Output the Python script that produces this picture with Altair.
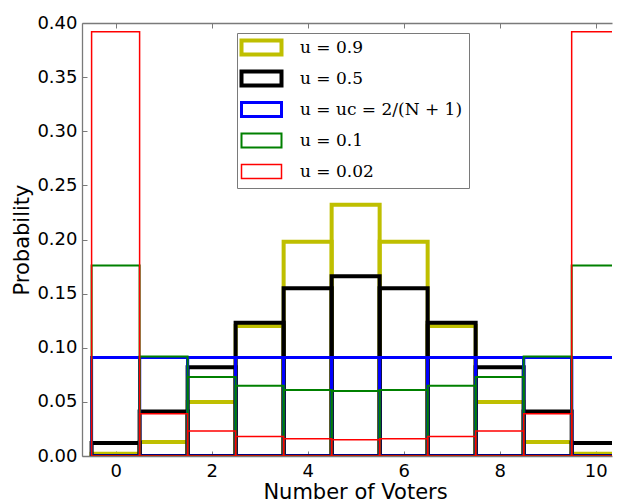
import altair as alt
import pandas as pd

# ---- data ----
voters = list(range(11))
series_labels = ["u = 0.9", "u = 0.5", "u = uc = 2/(N + 1)", "u = 0.1", "u = 0.02"]
p_u09 = [0.002, 0.013, 0.050, 0.120, 0.198, 0.232, 0.198, 0.120, 0.050, 0.013, 0.002]
p_u05 = [0.012, 0.041, 0.082, 0.123, 0.155, 0.166, 0.155, 0.123, 0.082, 0.041, 0.012]
p_uc = [0.091, 0.091, 0.091, 0.091, 0.091, 0.091, 0.091, 0.091, 0.091, 0.091, 0.091]
p_u01 = [0.176, 0.092, 0.073, 0.065, 0.061, 0.060, 0.061, 0.065, 0.073, 0.092, 0.176]
p_u002 = [0.392, 0.039, 0.023, 0.018, 0.016, 0.015, 0.016, 0.018, 0.023, 0.039, 0.392]
x_ticks = [0, 2, 4, 6, 8, 10]
y_ticks = [0.0, 0.05, 0.10, 0.15, 0.20, 0.25, 0.30, 0.35, 0.40]

colors = ["#bfbf00", "#000000", "#0000ff", "#008000", "#ff0000"]
line_widths = [4, 4, 3, 2, 1.5]

rows = []
for k, (lab, vals) in enumerate(zip(series_labels, [p_u09, p_u05, p_uc, p_u01, p_u002])):
    for n, p in zip(voters, vals):
        rows.append({"series": lab, "order": k, "n": n, "p": p})
df = pd.DataFrame(rows)

FONT = "DejaVu Sans"
GRAY = "#7a7a7a"
xscale = alt.Scale(domain=[-0.7, 10.34], nice=False, zero=False)
yscale = alt.Scale(domain=[0, 0.4], nice=False, zero=False)

# legend symbol stroke widths follow the series line widths
sw_expr = "".join(
    f"datum.value === '{lab}' ? {w} : " for lab, w in zip(series_labels, line_widths)
) + "2"

legend = alt.Legend(
    title=None, orient="none", legendX=155, legendY=10,
    symbolType="M-1,-0.7H3V0.7H-1Z", symbolSize=400,
    symbolStrokeWidth={"expr": sw_expr},
    labelOffset=40, padding=6, rowPadding=0,
    columns=1, gridAlign="all",
    strokeColor=GRAY, fillColor="white",
    labelFont="DejaVu Serif", labelFontSize=17, labelColor="black",
    labelLimit=400,
)

bars = alt.Chart(df).transform_calculate(
    x0="datum.n - 0.5", x1="datum.n + 0.5"
).mark_rect(filled=False, clip=True).encode(
    x=alt.X("x0:Q", scale=xscale,
            axis=alt.Axis(values=x_ticks, title="Number of Voters", format="d",
                          domain=True, tickSize={"expr": "-5"}, labelPadding=11,
                          titlePadding=1, titleX=273)),
    x2="x1:Q",
    y=alt.Y("p:Q", scale=yscale,
            axis=alt.Axis(values=y_ticks, title="Probability", format=".2f",
                          domain=True, tickSize={"expr": "-5"}, labelPadding=10,
                          titlePadding=4)),
    y2=alt.datum(0),
    stroke=alt.Stroke("series:N", scale=alt.Scale(domain=series_labels, range=colors),
                      legend=legend),
    strokeWidth=alt.StrokeWidth("order:Q",
                                scale=alt.Scale(domain=list(range(len(line_widths))),
                                                range=line_widths),
                                legend=None),
    order=alt.Order("order:Q"),
)

top_ticks = alt.Chart(df).mark_point(opacity=0).encode(
    x=alt.X("n:Q", scale=xscale,
            axis=alt.Axis(values=x_ticks, title=None, labels=False, domain=True,
                          tickSize={"expr": "-5"})),
)

chart = alt.layer(bars, top_ticks).resolve_axis(
    x="independent"
).properties(
    width=530, height=433,
    autosize=alt.AutoSizeParams(type="none"),
    padding={"left": 74, "top": 15, "right": 1, "bottom": 47},
).configure_view(
    stroke=None
).configure_axis(
    domainColor=GRAY, domainWidth=1.3, grid=False, tickColor=GRAY, tickWidth=1,
    labelFont=FONT, labelFontSize=18, labelColor="black",
    titleFont=FONT, titleFontSize=21, titleFontWeight="normal", titleColor="black",
)

chart.save("out.html", embed_options={"renderer": "svg", "actions": False})
